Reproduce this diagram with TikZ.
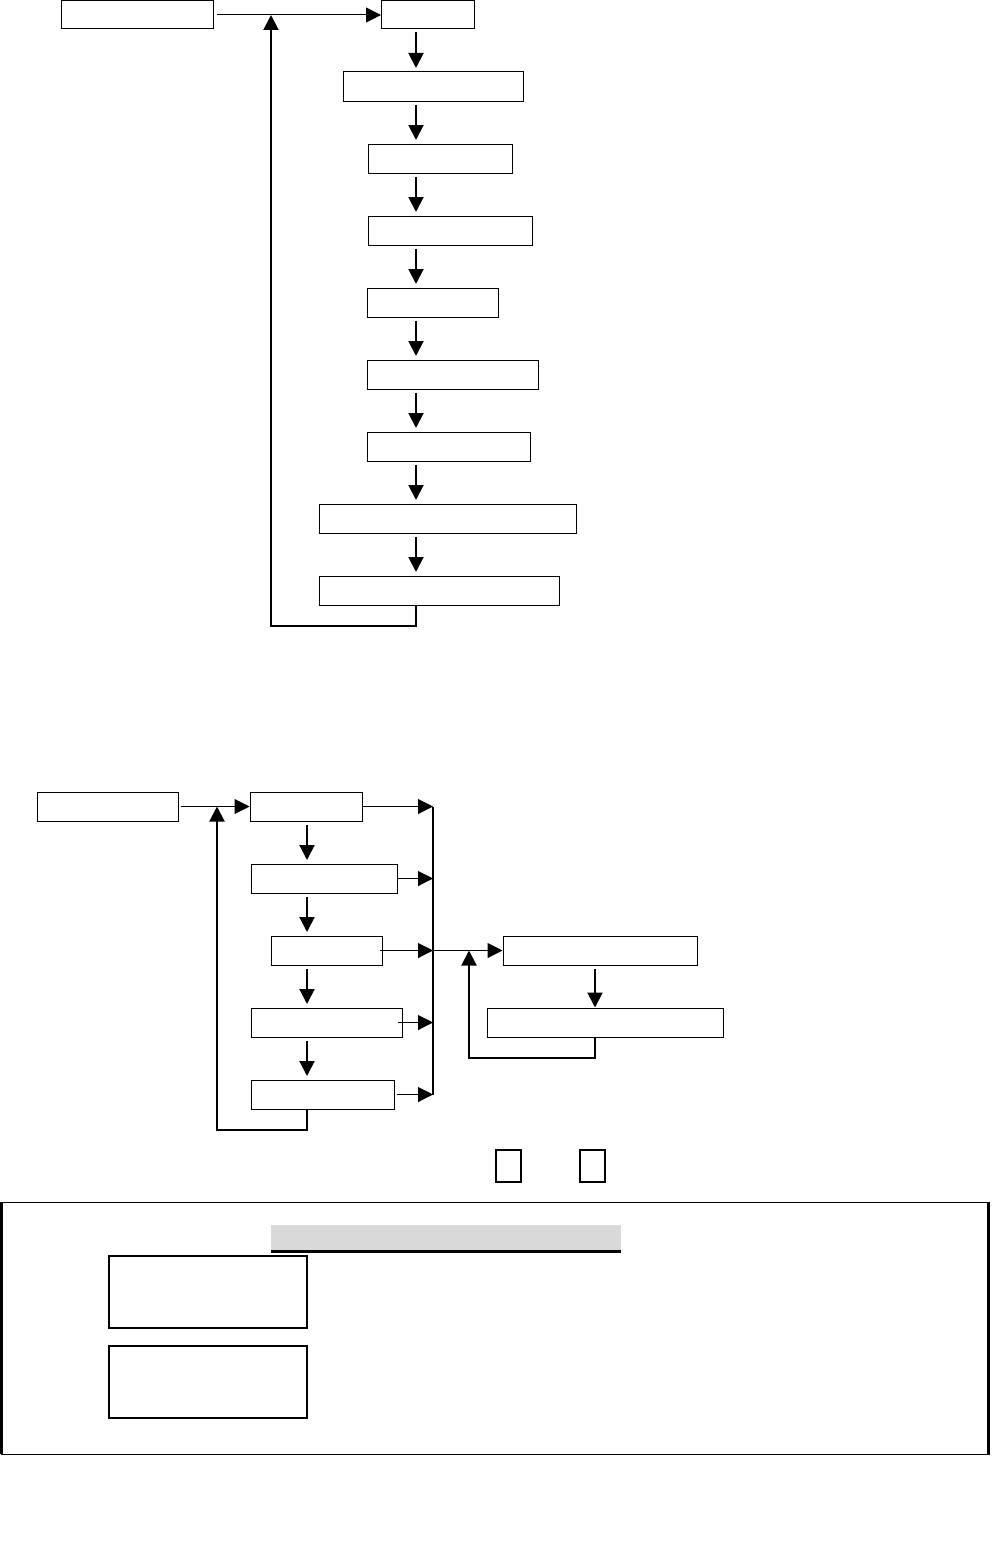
\documentclass[tikz,border=0pt]{standalone}
\usetikzlibrary{arrows.meta,calc}
\begin{document}
\begin{tikzpicture}[x=1pt,y=-1pt,
  box/.style={draw,line width=1pt,inner sep=0pt,minimum height=29pt},
  tipT/.style={-{Triangle[length=15pt,width=15pt]}},
  vflow/.style={line width=2pt,tipT,shorten <=3pt,shorten >=3.5pt},
  hflow/.style={line width=1pt,tipT},
  loopline/.style={line width=2pt,tipT},
  busline/.style={line width=2pt},
  smallbox/.style={draw,line width=1.2pt,inner sep=0pt},
]
\useasboundingbox (0,0) rectangle (992,1563);

% ---------- upper flow ----------
\node[box,minimum width=152pt,minimum height=28pt] (A) at (137,15) {};
\node[box,minimum width=93pt,minimum height=28pt] (B) at (428,15) {};
\node[box,minimum width=180pt] (C) at (433,86.5) {};
\node[box,minimum width=144pt] (D) at (440,158.5) {};
\node[box,minimum width=164pt] (E) at (450,230.5) {};
\node[box,minimum width=131pt] (F) at (432.5,302.5) {};
\node[box,minimum width=171pt] (G) at (452.5,374.5) {};
\node[box,minimum width=163pt] (H) at (448.5,446.5) {};
\node[box,minimum width=257pt] (I) at (447.5,518.5) {};
\node[box,minimum width=240pt] (J) at (439,590.5) {};

\coordinate (ax) at (416,0);
\coordinate (j1) at (271,15);
\coordinate (lowA) at (0,626);

\draw[hflow,shorten <=3pt] (A.east) -- (B.west);
\draw[vflow] (ax |- B.south) -- (ax |- C.north);
\draw[vflow] (ax |- C.south) -- (ax |- D.north);
\draw[vflow] (ax |- D.south) -- (ax |- E.north);
\draw[vflow] (ax |- E.south) -- (ax |- F.north);
\draw[vflow] (ax |- F.south) -- (ax |- G.north);
\draw[vflow] (ax |- G.south) -- (ax |- H.north);
\draw[vflow] (ax |- H.south) -- (ax |- I.north);
\draw[vflow] (ax |- I.south) -- (ax |- J.north);
\draw[loopline] (ax |- J.south) -- (ax |- lowA) -| (j1);

% ---------- lower flow ----------
\node[box,minimum width=141pt] (K) at (107.5,806.5) {};
\node[box,minimum width=112pt] (L) at (306,806.5) {};
\node[box,minimum width=146pt] (M) at (324,878.5) {};
\node[box,minimum width=111pt] (N) at (326.5,950.5) {};
\node[box,minimum width=151pt] (O) at (326.5,1022.5) {};
\node[box,minimum width=143pt] (P) at (322.5,1094.5) {};
\node[box,minimum width=194pt] (Q) at (600,950.5) {};
\node[box,minimum width=236pt] (R) at (605,1022.5) {};

\coordinate (bx) at (307,0);
\coordinate (bus) at (433,0);
\coordinate (j2) at (217,806.5);
\coordinate (lowB) at (0,1130);
\coordinate (rx) at (595,0);
\coordinate (j3) at (469,950.5);
\coordinate (lowC) at (0,1058);

\draw[hflow,shorten <=2pt] (K.east) -- (L.west);
\draw[vflow] (bx |- L.south) -- (bx |- M.north);
\draw[vflow] (bx |- M.south) -- (bx |- N.north);
\draw[vflow] (bx |- N.south) -- (bx |- O.north);
\draw[vflow] (bx |- O.south) -- (bx |- P.north);
\draw[loopline] (bx |- P.south) -- (bx |- lowB) -| (j2);

\draw[busline] (bus |- L.east) -- (bus |- P.east);
\draw[hflow,shorten <=-1pt] (L.east) -- (bus |- L.east);
\draw[hflow] (M.east) -- (bus |- M.east);
\draw[hflow,shorten <=-3pt] (N.east) -- (bus |- N.east);
\draw[hflow,shorten <=-5pt] (O.east) -- (bus |- O.east);
\draw[hflow,shorten <=2pt] (P.east) -- (bus |- P.east);
\draw[hflow] (bus |- N.east) -- (Q.west);
\draw[vflow,shorten >=0pt] (rx |- Q.south) -- (rx |- R.north);
\draw[loopline] (rx |- R.south) -- (rx |- lowC) -| (j3);

% ---------- small boxes ----------
\node[smallbox,minimum width=25pt,minimum height=32pt] (T1) at (508.5,1166) {};
\node[smallbox,minimum width=25pt,minimum height=32pt] (T2) at (592.5,1166) {};

% ---------- bottom panel ----------
\draw[line width=1pt] (1,1202) rectangle (989,1454);
\draw[line width=2.5pt] (1.25,1202) -- (1.25,1454);
\draw[line width=2.5pt] (988.5,1202) -- (988.5,1454);
\fill[black!15] (271,1225) rectangle (621,1250);
\fill[black] (271,1250) rectangle (621,1253);
\node[smallbox,minimum width=198pt,minimum height=72pt] (S1) at (208,1292) {};
\node[smallbox,minimum width=198pt,minimum height=72pt] (S2) at (208,1382) {};
\end{tikzpicture}
\end{document}
